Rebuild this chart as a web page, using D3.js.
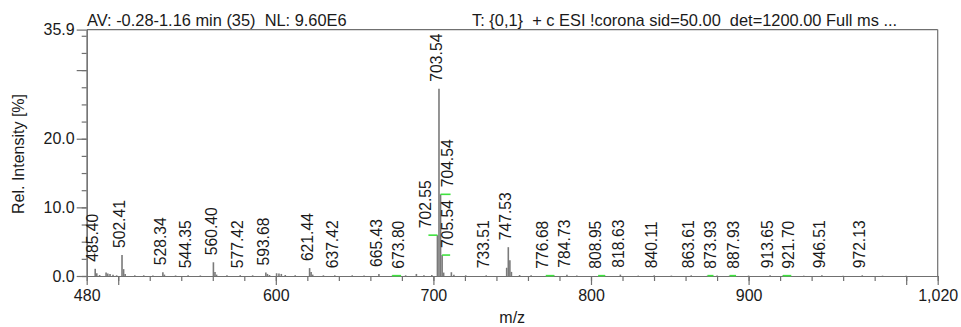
<!DOCTYPE html>
<html>
<head>
<meta charset="utf-8">
<script src="https://cdn.jsdelivr.net/npm/d3@7"></script>
<style>
  html, body { margin: 0; padding: 0; background: #fff; }
  svg { display: block; font-family: "Liberation Sans", Arial, sans-serif; }
  .hdr { white-space: pre; }
</style>
</head>
<body>
<svg id="chart" width="961" height="327"></svg>
<script>
// Labelled centroid peaks (m/z, relative intensity %)
const labelMz  = [485.40, 502.41, 528.34, 544.35, 560.40, 577.42, 593.68, 621.44, 637.42,
                  665.43, 673.80, 702.55, 703.54, 704.54, 705.54, 733.51, 747.53, 776.68,
                  784.73, 808.95, 818.63, 840.11, 863.61, 873.93, 887.93, 913.65, 921.70,
                  946.51, 972.13];
const labelInt = [1.05, 3.05, 0.55, 0.12, 2.0, 0.12, 0.5, 1.15, 0.1,
                  0.3, 0.05, 5.95, 27.3, 11.9, 3.05, 0.1, 4.2, 0.05,
                  0.2, 0.05, 0.2, 0.1, 0.1, 0.05, 0.05, 0.1, 0.05,
                  0.1, 0.1];

// Unlabelled minor peaks
const minorMz  = [486.4, 488.2, 492.3, 493.4, 494.8, 496.7, 499.0, 503.42, 504.4, 510.5,
                  516.2, 522.0, 529.3, 536.4, 552.1, 561.4, 562.4, 569.0, 585.3, 594.7,
                  596.0, 600.5, 602.0, 603.5, 606.0, 612.3, 622.4, 623.4, 630.2, 648.5,
                  656.0, 682.4, 689.2, 694.0, 699.0, 706.5, 711.4, 713.0, 720.5, 746.5,
                  748.53, 749.5, 754.7, 762.0, 791.0, 830.0, 851.0, 880.0, 900.0, 935.0,
                  960.0, 985.0, 1000.0];
const minorInt = [0.4, 0.15, 0.5, 0.35, 0.3, 0.2, 0.1, 1.0, 0.3, 0.1,
                  0.1, 0.08, 0.2, 0.08, 0.08, 0.6, 0.2, 0.1, 0.1, 0.3,
                  0.15, 0.4, 0.35, 0.3, 0.15, 0.1, 0.6, 0.2, 0.1, 0.1,
                  0.08, 0.1, 0.3, 0.12, 0.15, 0.5, 0.55, 0.2, 0.1, 1.2,
                  2.3, 0.6, 0.15, 0.1, 0.08, 0.06, 0.06, 0.06, 0.06, 0.05,
                  0.05, 0.05, 0.05];

const xDomain = [480, 1020];
const yDomain = [0, 35.9];
const xMajorTicks = [480, 500, 600, 700, 800, 900, 1000, 1020];
const xTickLabels = [480, 600, 700, 800, 900, 1020];
const yMajorTicks = [0, 10, 20, 30, 35.9];
const yTickLabels = [0, 10, 20, 35.9];

const headerLeft  = "AV: -0.28-1.16 min (35)  NL: 9.60E6";
const headerRight = "T: {0,1}  + c ESI !corona sid=50.00  det=1200.00 Full ms ...";
const xTitle = "m/z";
const yTitle = "Rel. Intensity [%]";

const svg = d3.select("#chart");
const L = 86.7, R = 937.7, T = 29.6, B = 276;
const x = d3.scaleLinear(xDomain, [L, R]);
const y = d3.scaleLinear(yDomain, [B, T]);

const axisColor = "#707070";
const textColor = "#1a1a1a";
const stickColor = "#7a7a7a";
const green = "#3fe23f";

// frame: top and right edges
svg.append("line").attr("x1", L).attr("x2", R).attr("y1", T).attr("y2", T)
  .attr("stroke", axisColor).attr("stroke-width", 1.2);
svg.append("line").attr("x1", R).attr("x2", R).attr("y1", T).attr("y2", B)
  .attr("stroke", axisColor).attr("stroke-width", 1.2);

// x axis: minor then major ticks
const gxMinor = svg.append("g").attr("transform", `translate(0,${B})`)
  .call(d3.axisBottom(x).tickValues(d3.range(480, 1021, 20)).tickSize(5).tickSizeOuter(0).tickFormat(""));
const gxMajor = svg.append("g").attr("transform", `translate(0,${B})`)
  .call(d3.axisBottom(x).tickValues(xMajorTicks).tickSize(9).tickSizeOuter(0).tickPadding(5)
    .tickFormat(d => xTickLabels.includes(d) ? d3.format(",")(d) : ""));

// y axis: minor then major ticks
const gyMinor = svg.append("g").attr("transform", `translate(${L},0)`)
  .call(d3.axisLeft(y).tickValues(d3.range(0, 35.9, 2.5)).tickSize(5).tickSizeOuter(0).tickFormat(""));
const gyMajor = svg.append("g").attr("transform", `translate(${L},0)`)
  .call(d3.axisLeft(y).tickValues(yMajorTicks).tickSize(10).tickSizeOuter(0).tickPadding(2)
    .tickFormat(d => yTickLabels.includes(d) ? d3.format(".1f")(d) : ""));

[gxMinor, gxMajor, gyMinor, gyMajor].forEach(g => {
  g.selectAll("path.domain").attr("stroke", axisColor).attr("stroke-width", 1.2);
  g.selectAll(".tick line").attr("stroke", axisColor).attr("stroke-width", 1.2);
  g.selectAll(".tick text").attr("fill", textColor)
    .style("font-size", "16px").style("font-family", "Liberation Sans, Arial, sans-serif");
});

// spectrum sticks
const sticks = svg.append("g");
const allMz = minorMz.concat(labelMz);
const allInt = minorInt.concat(labelInt);
sticks.selectAll("line").data(d3.range(allMz.length)).join("line")
  .attr("x1", i => x(allMz[i])).attr("x2", i => x(allMz[i]))
  .attr("y1", y(0)).attr("y2", i => y(allInt[i]))
  .attr("stroke", stickColor).attr("stroke-width", 1.6);

// label placement: horizontal offset (px) of the rotated label's centre from its peak
const defaultShift = -2.5;
const labelShift = {
  "673.80": 6, "702.55": -12, "704.54": 7, "705.54": 5, "776.68": -11.5,
  "808.95": -10, "873.93": 3, "887.93": 3.5, "921.70": 5.5
};

const labels = labelMz.map((m, i) => {
  const key = m.toFixed(2);
  const moved = key in labelShift;
  const px = x(m);
  return { text: key, px, py: y(labelInt[i]), cx: px + (moved ? labelShift[key] : defaultShift), moved };
});

// green leader lines for labels moved away from their peaks
svg.append("g").selectAll("line").data(labels.filter(d => d.moved)).join("line")
  .attr("x1", d => d.px).attr("x2", d => d.cx + 3)
  .attr("y1", d => d.py).attr("y2", d => d.py)
  .attr("stroke", green).attr("stroke-width", 1.6);

svg.append("g").selectAll("text").data(labels).join("text")
  .attr("transform", d => `translate(${d.cx},${d.py - 7}) rotate(-90)`)
  .attr("dy", "0.36em")
  .attr("fill", textColor)
  .style("font-size", "15.7px")
  .text(d => d.text);

// header
svg.append("text").attr("class", "hdr").attr("x", 87).attr("y", 26)
  .attr("fill", textColor).style("font-size", "16.4px").text(headerLeft);
svg.append("text").attr("class", "hdr").attr("x", 472).attr("y", 26)
  .attr("fill", textColor).style("font-size", "16.4px").text(headerRight);

// axis titles
svg.append("text").attr("x", (L + R) / 2).attr("y", 323).attr("text-anchor", "middle")
  .attr("fill", textColor).style("font-size", "16px").text(xTitle);
svg.append("text").attr("transform", `translate(24,154) rotate(-90)`).attr("text-anchor", "middle")
  .attr("fill", textColor).style("font-size", "16px").text(yTitle);
</script>
</body>
</html>
